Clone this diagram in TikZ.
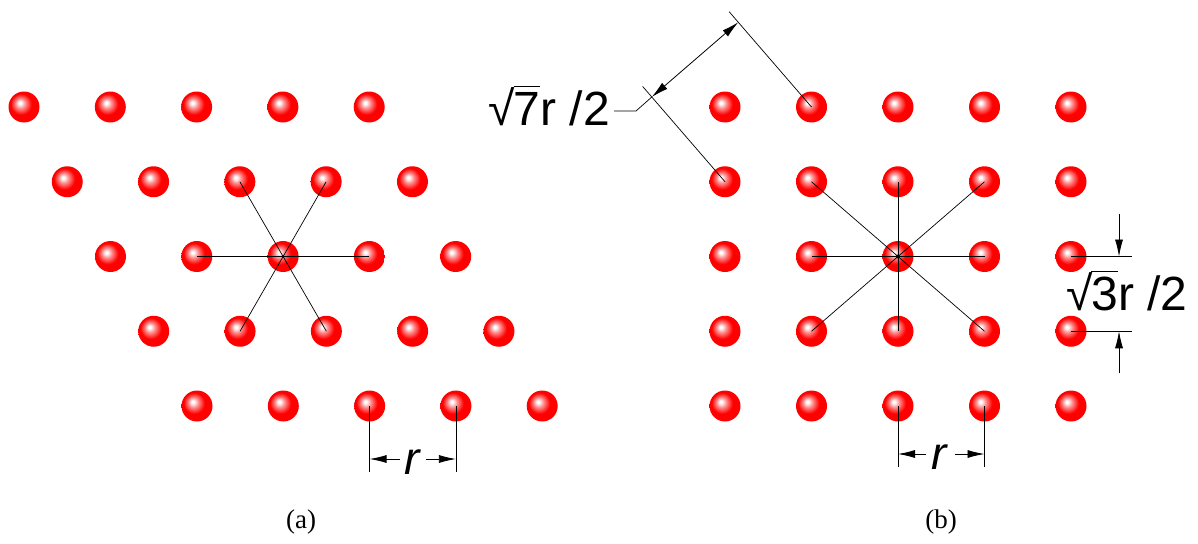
\documentclass[tikz,border=0pt]{standalone}
\usepackage{fontspec}
\setmainfont{Liberation Serif}
\newfontfamily\arialf{Liberation Sans}
\usetikzlibrary{arrows.meta,calc}
\pgfdeclareradialshading{redball}{\pgfpoint{-7bp}{7bp}}{color(0bp)=(white);color(2bp)=(white);color(8bp)=(red!45!white);color(17bp)=(red);color(50bp)=(red)}
\newcommand{\radx}[1]{√\kern-0.03em\vbox{\hrule height 1.2pt\kern 5pt\hbox{#1}}}
\tikzset{
  ball/.style={circle, minimum size=31pt, inner sep=0pt, shade, shading=redball},
  ln/.style={line width=0.7pt, black},
  dimarrow/.style={line width=0.8pt, -{Latex[length=17pt,width=8pt]}},
  dimtwo/.style={line width=0.8pt, {Latex[length=17pt,width=8pt]}-{Latex[length=17pt,width=8pt]}},
  bigtxt/.style={font=\arialf\fontsize{48}{50}\selectfont, inner sep=0pt},
  rtxt/.style={font=\arialf\itshape\fontsize{46}{48}\selectfont, inner sep=0pt},
  captxt/.style={font=\fontsize{27}{30}\selectfont, inner sep=0pt}
}
\begin{document}
\begin{tikzpicture}[x=1pt,y=-1pt]
\useasboundingbox (0,0) rectangle (1198,543);
% lattices
\foreach \i in {1,...,5}{
  \foreach \j in {1,...,5}{
    \node[ball] (L-\i-\j) at ({24+43.25*(\i-1)+86.3*(\j-1)},{107+74.75*(\i-1)}) {};
    \node[ball] (R-\i-\j) at ({725+86.5*(\j-1)},{107+74.75*(\i-1)}) {};
  }
}
% star (a)
\foreach \n in {L-3-2,L-3-4,L-2-3,L-2-4,L-4-2,L-4-3}{
  \draw[ln] (L-3-3.center) -- (\n.center);
}
\fill (L-3-3.center) circle (1.5pt);
% star (b)
\foreach \n in {R-2-2,R-2-3,R-2-4,R-3-2,R-3-4,R-4-2,R-4-3,R-4-4}{
  \draw[ln] (R-3-3.center) -- (\n.center);
}
\fill (R-3-3.center) circle (2pt);

% r dimension (a)
\coordinate (la1) at ($(L-5-3.center)+(0,66)$);
\coordinate (la2) at ($(L-5-4.center)+(0,66)$);
\draw[ln] (L-5-3.center) -- (la1);
\draw[ln] (L-5-4.center) -- (la2);
\node[rtxt] (ra) at ($(L-5-3.center)!0.5!(L-5-4.center)+(-1,56)$) {r};
\coordinate (ra1) at ($(L-5-3.center)+(0,53)$);
\coordinate (ra2) at ($(L-5-4.center)+(0,53)$);
\coordinate (ra1s) at ($(ra1)+(30,0)$);
\coordinate (ra2s) at ($(ra2)+(-30,0)$);
\draw[dimarrow] (ra1s) -- (ra1);
\draw[dimarrow] (ra2s) -- (ra2);

% r dimension (b)
\coordinate (lb1) at ($(R-5-3.center)+(0,61)$);
\coordinate (lb2) at ($(R-5-4.center)+(0,61)$);
\draw[ln] (R-5-3.center) -- (lb1);
\draw[ln] (R-5-4.center) -- (lb2);
\node[rtxt] (rb) at ($(R-5-3.center)!0.5!(R-5-4.center)+(-2,51)$) {r};
\coordinate (rb1) at ($(R-5-3.center)+(0,48)$);
\coordinate (rb2) at ($(R-5-4.center)+(0,48)$);
\coordinate (rb1s) at ($(rb1)+(28,0)$);
\coordinate (rb2s) at ($(rb2)+(-30,0)$);
\draw[dimarrow] (rb1s) -- (rb1);
\draw[dimarrow] (rb2s) -- (rb2);

% sqrt3 dimension
\coordinate (s1) at ($(R-3-5.center)+(61,0)$);
\coordinate (s2) at ($(R-4-5.center)+(61,0)$);
\draw[ln] (R-3-5.center) -- (s1);
\draw[ln] (R-4-5.center) -- (s2);
\coordinate (sa1) at ($(R-3-5.center)+(48,0)$);
\coordinate (sa2) at ($(R-4-5.center)+(48,0)$);
\coordinate (sa1s) at ($(sa1)+(0,-43)$);
\coordinate (sa2s) at ($(sa2)+(0,42)$);
\draw[dimarrow] (sa1s) -- (sa1);
\draw[dimarrow] (sa2s) -- (sa2);
\node[bigtxt] (t3) at (1127,291) {\radx{3}r /2};

% sqrt7 dimension
\coordinate (e1) at ($(R-2-1.center)!126pt!90:(R-1-2.center)$);
\coordinate (e2) at ($(R-1-2.center)!126pt!-90:(R-2-1.center)$);
\draw[ln] (R-2-1.center) -- (e1);
\draw[ln] (R-1-2.center) -- (e2);
\coordinate (d1) at ($(R-2-1.center)!112pt!90:(R-1-2.center)$);
\coordinate (d2) at ($(R-1-2.center)!112pt!-90:(R-2-1.center)$);
\draw[dimtwo] (d1) -- (d2);
\node[bigtxt, anchor=east] (t7) at (610,106) {\radx{7}r /2};
\coordinate (t7e) at (614,111);
\coordinate (k1) at (636,111);
\draw[ln] (t7e) -- (k1) -- (d1);

% captions
\node[captxt] (ca) at (301,522) {(a)};
\node[captxt] (cb) at (941,522) {(b)};
\end{tikzpicture}
\end{document}
